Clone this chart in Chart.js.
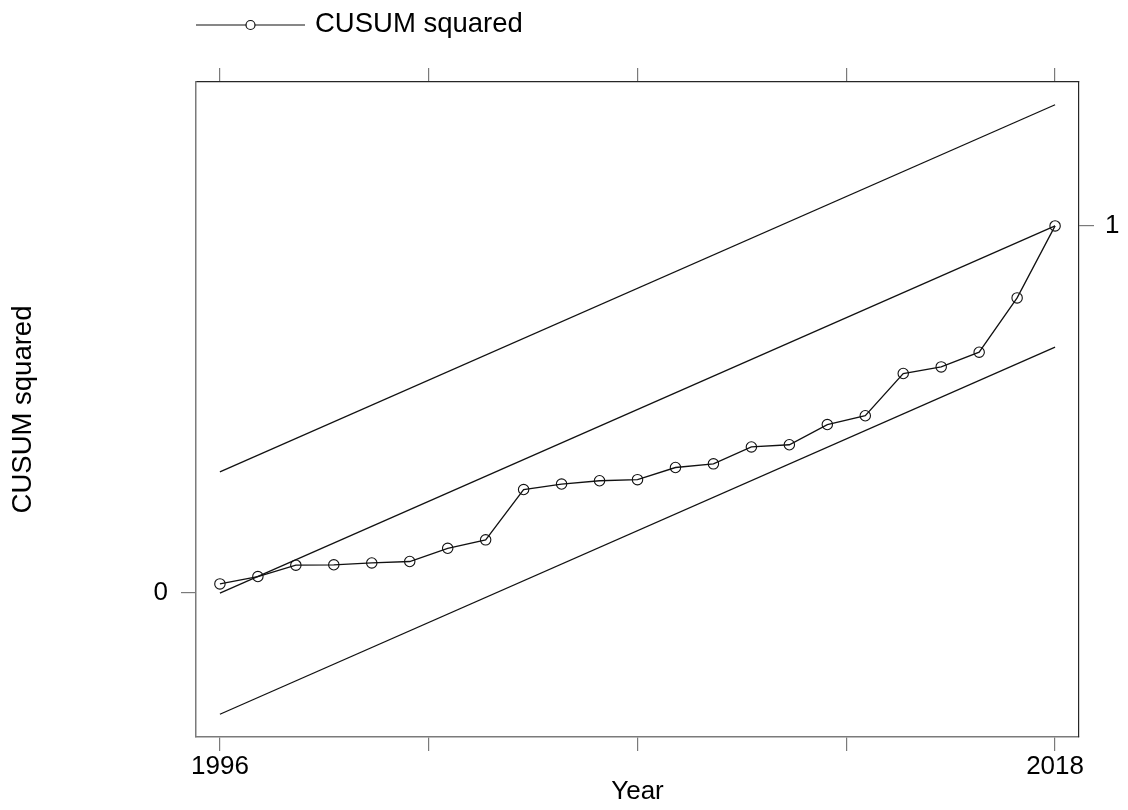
<!DOCTYPE html>
<html>
<head>
<meta charset="utf-8">
<title>CUSUM squared</title>
<script src="https://cdn.jsdelivr.net/npm/chart.js@4.4.1/dist/chart.umd.min.js"></script>
<style>
  html, body { margin: 0; padding: 0; background: #fff; }
  #wrap { width: 1128px; height: 810px; position: relative; }
</style>
</head>
<body>
<div id="wrap"><canvas id="cusumChart"></canvas></div>
<script>
// -------------------- Data --------------------
const years = [1996, 1997, 1998, 1999, 2000, 2001, 2002, 2003, 2004, 2005, 2006, 2007,
  2008, 2009, 2010, 2011, 2012, 2013, 2014, 2015, 2016, 2017, 2018];
const cusumSq = [0.025, 0.045, 0.076, 0.077, 0.082, 0.086, 0.122, 0.145, 0.282, 0.297, 0.306, 0.309,
  0.342, 0.352, 0.398, 0.404, 0.459, 0.483, 0.598, 0.616, 0.656, 0.804, 1.0];

// reference line and 5% bounds (start / end)
const boundYears = [1996, 2018];
const centerLine = [0, 1];
const upperBound = [0.33, 1.33];
const lowerBound = [-0.33, 0.67];

// ticks
const xTickValues = [1996, 2001.5, 2007, 2012.5, 2018];
const xTickLabels = ["1996", "", "", "", "2018"];
const yLeftTicks = [0];
const yLeftLabels = ["0"];
const yRightTicks = [1];
const yRightLabels = ["1"];

const seriesLabel = "CUSUM squared";
const xTitle = "Year";
const yTitle = "CUSUM squared";

// -------------------- Helpers --------------------
const FONT = "'Liberation Sans', Arial, Helvetica, sans-serif";
const xy = (xs, ys) => xs.map((x, i) => ({ x: x, y: ys[i] }));
const GRAY = "#7a7a7a";
const DARK = "#262626";

// Legend drawn by hand (line + circle + text), Stata style
const stataLegend = {
  id: "stataLegend",
  afterDraw(chart) {
    const ctx = chart.ctx;
    ctx.save();
    ctx.strokeStyle = "#111";
    ctx.lineWidth = 1.2;
    ctx.beginPath();
    ctx.moveTo(196, 25);
    ctx.lineTo(305, 25);
    ctx.stroke();
    ctx.fillStyle = "#fff";
    ctx.beginPath();
    ctx.arc(250.5, 25, 4.5, 0, Math.PI * 2);
    ctx.fill();
    ctx.stroke();
    ctx.fillStyle = "#000";
    ctx.font = "27.5px " + FONT;
    ctx.textBaseline = "middle";
    ctx.fillText(seriesLabel, 315, 24);
    ctx.restore();
  }
};

function fixedTicks(values) {
  return function (scale) {
    scale.ticks = values.map(v => ({ value: v }));
  };
}

// -------------------- Chart --------------------
const ctx = document.getElementById("cusumChart");
new Chart(ctx, {
  type: "line",
  data: {
    datasets: [
      {
        label: seriesLabel,
        data: xy(years, cusumSq),
        borderColor: "#111",
        borderWidth: 1.3,
        pointRadius: 5.2,
        pointBorderWidth: 1.1,
        pointBorderColor: "#111",
        pointBackgroundColor: "rgba(0,0,0,0)",
        fill: false,
        tension: 0,
      },
      {
        data: xy(boundYears, upperBound),
        borderColor: "#111", borderWidth: 1.3, pointRadius: 0, fill: false,
      },
      {
        data: xy(boundYears, centerLine),
        borderColor: "#111", borderWidth: 1.3, pointRadius: 0, fill: false,
      },
      {
        data: xy(boundYears, lowerBound),
        borderColor: "#111", borderWidth: 1.3, pointRadius: 0, fill: false,
      },
    ],
  },
  options: {
    responsive: true,
    maintainAspectRatio: false,
    animation: false,
    layout: { padding: { top: 50, left: 0, right: 0, bottom: 0 } },
    plugins: {
      legend: { display: false },
      tooltip: { enabled: false },
    },
    scales: {
      x: {
        type: "linear",
        position: "bottom",
        min: 1995.37,
        max: 2018.63,
        afterBuildTicks: fixedTicks(xTickValues),
        afterFit: (s) => { s.height = 73; },
        ticks: {
          autoSkip: false,
          maxRotation: 0,
          padding: 0,
          color: "#000",
          font: { family: FONT, size: 26 },
          callback: (v, i) => xTickLabels[i],
        },
        grid: { drawOnChartArea: false, drawTicks: true, tickLength: 14, tickColor: GRAY, lineWidth: 1.2 },
        border: { display: true, color: GRAY, width: 1.5 },
        title: {
          display: true,
          text: xTitle,
          color: "#000",
          font: { family: FONT, size: 26, lineHeight: 1.2 },
          padding: { top: 0, bottom: 3 },
        },
      },
      x2: {
        type: "linear",
        position: "top",
        min: 1995.37,
        max: 2018.63,
        afterBuildTicks: fixedTicks(xTickValues),
        afterFit: (s) => { s.height = 32; },
        ticks: { autoSkip: false, maxRotation: 0, callback: () => "" },
        grid: { drawOnChartArea: false, drawTicks: true, tickLength: 14, tickColor: GRAY, lineWidth: 1.2 },
        border: { display: true, color: DARK, width: 1.2 },
      },
      y: {
        type: "linear",
        position: "left",
        min: -0.392,
        max: 1.392,
        afterBuildTicks: fixedTicks(yLeftTicks),
        afterFit: (s) => { s.width = 196; },
        ticks: {
          padding: 13,
          color: "#000",
          font: { family: FONT, size: 26 },
          callback: (v, i) => yLeftLabels[i],
        },
        grid: { drawOnChartArea: false, drawTicks: true, tickLength: 15, tickColor: GRAY, lineWidth: 1.2 },
        border: { display: true, color: GRAY, width: 1.5 },
        title: {
          display: true,
          text: yTitle,
          color: "#000",
          font: { family: FONT, size: 27.5, lineHeight: 1.2 },
          padding: { top: 7, bottom: 0 },
        },
      },
      y2: {
        type: "linear",
        position: "right",
        min: -0.392,
        max: 1.392,
        afterBuildTicks: fixedTicks(yRightTicks),
        afterFit: (s) => { s.width = 49; },
        ticks: {
          padding: 11,
          color: "#000",
          font: { family: FONT, size: 26 },
          callback: (v, i) => yRightLabels[i],
        },
        grid: { drawOnChartArea: false, drawTicks: true, tickLength: 15, tickColor: GRAY, lineWidth: 1.2 },
        border: { display: true, color: DARK, width: 1.2 },
      },
    },
  },
  plugins: [stataLegend],
});
</script>
</body>
</html>
